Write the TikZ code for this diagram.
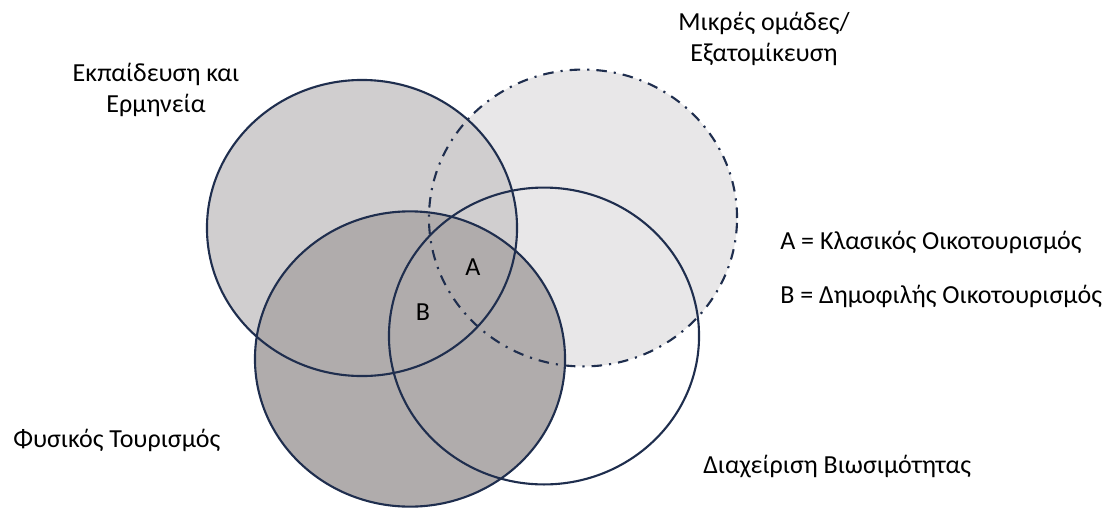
\documentclass[tikz,border=0pt]{standalone}
\usepackage{fontspec}
\setmainfont{Carlito}
\definecolor{ringline}{RGB}{31,46,78}
\definecolor{eduFill}{RGB}{208,206,207}
\definecolor{groupFill}{RGB}{232,231,232}
\definecolor{natureFill}{RGB}{176,172,172}
\tikzset{
  ring/.style={draw=ringline, line width=1.5pt},
  dashring/.style={ring, dash pattern=on 7.5pt off 5pt on 1.5pt off 5pt},
  lbl/.style={font=\fontsize{18.5}{22}\selectfont, inner sep=0pt, text=black}
}
\begin{document}
\begin{tikzpicture}[x=0.025cm, y=-0.025cm]
\useasboundingbox (0,0) rectangle (1115,507);

%%%%%% Fills %%%%%%%
\fill[groupFill] (583,218) ellipse [x radius=3.85cm, y radius=3.71cm];
\fill[eduFill] (362,228) ellipse [x radius=3.875cm, y radius=3.7cm];
\fill[natureFill] (410,359) ellipse [x radius=3.875cm, y radius=3.69cm];

%%%%%% Borders %%%%%%%
\draw[ring] (362,228) ellipse [x radius=3.875cm, y radius=3.7cm];
\draw[ring] (544,336) ellipse [x radius=3.875cm, y radius=3.71cm];
\draw[ring] (410,359) ellipse [x radius=3.875cm, y radius=3.69cm];
\draw[dashring] (583,218) ellipse [x radius=3.85cm, y radius=3.71cm];

%%%%%% Labels %%%%%%%
\node (edu) at (156,90) [lbl, align=center] {Εκπαίδευση και\\Ερμηνεία};
\node (group) at (764,39) [lbl, align=center] {Μικρές ομάδες/\\Εξατομίκευση};
\node (nature) at (13,440) [lbl, anchor=west] {Φυσικός Τουρισμός};
\node (manage) at (703,467) [lbl, anchor=west] {Διαχείριση Βιωσιμότητας};

\node (a) at (473,267) [lbl] {A};
\node (b) at (423,312) [lbl] {B};

\node (akey) at (780,242) [lbl, anchor=west] {A = Κλασικός Οικοτουρισμός};
\node (bkey) at (780,296) [lbl, anchor=west] {B = Δημοφιλής Οικοτουρισμός};

\end{tikzpicture}
\end{document}
